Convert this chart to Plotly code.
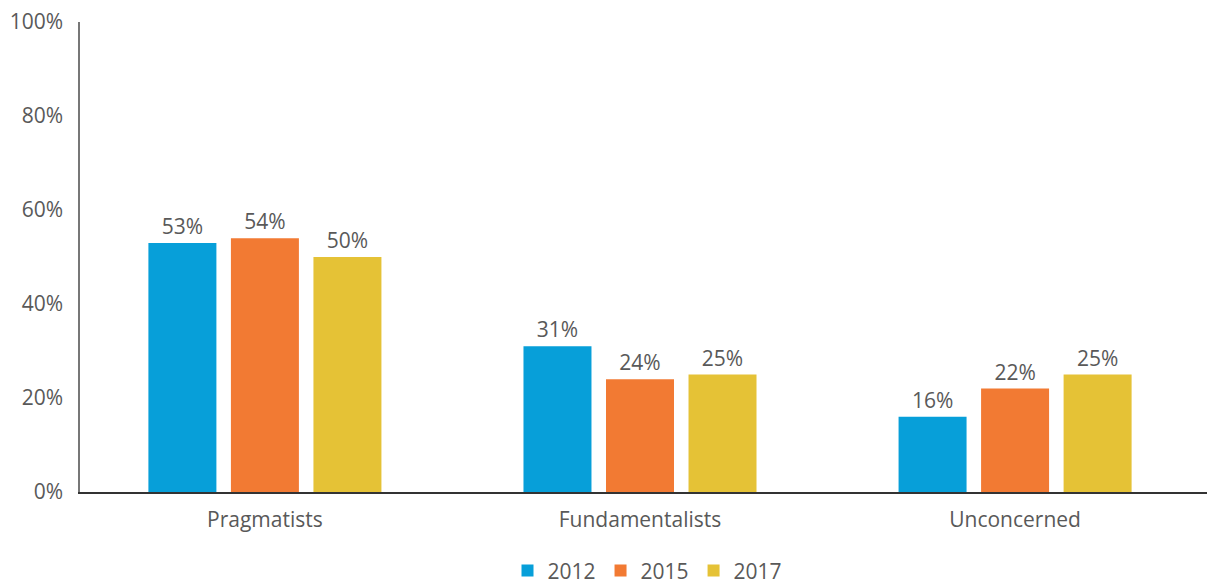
import plotly.graph_objects as go

categories = ["Pragmatists", "Fundamentalists", "Unconcerned"]
years = ["2012", "2015", "2017"]
values_2012 = [53, 31, 16]
values_2015 = [54, 24, 22]
values_2017 = [50, 25, 25]
colors = ["#079FD9", "#F27A33", "#E5C236"]
y_ticks = [0, 20, 40, 60, 80, 100]

series = [values_2012, values_2015, values_2017]
txt_color = "#595959"
font_family = "Open Sans, Noto Sans, sans-serif"
fs = 21

fig = go.Figure()
for yr, vals, col in zip(years, series, colors):
    fig.add_trace(go.Bar(
        x=categories, y=vals, name=yr, marker_color=col, marker_line_width=0,
        text=[f"{v}%" for v in vals], textposition="outside",
        textfont=dict(size=fs, color=txt_color, family=font_family),
        cliponaxis=False,
    ))

fig.update_layout(
    width=1207, height=577,
    margin=dict(l=72, r=0, t=14, b=93, autoexpand=False),
    paper_bgcolor="white", plot_bgcolor="white",
    barmode="group", bargap=0.34, bargroupgap=0.176,
    font=dict(family=font_family, size=fs, color=txt_color),
    showlegend=True,
    legend=dict(orientation="h", x=0.5, xanchor="center", y=-0.168, yanchor="middle",
                font=dict(size=fs, color=txt_color), itemwidth=30, traceorder="normal"),
    xaxis=dict(range=[-0.493, 2.533], showline=True, linecolor="#333333", linewidth=1.5,
               showgrid=False, ticks="", ticklabelstandoff=8, automargin=False,
               tickfont=dict(size=fs, color=txt_color)),
    yaxis=dict(range=[0, 100], tickvals=y_ticks, ticktext=[f"{t}%" for t in y_ticks],
               showline=True, linecolor="#777777", linewidth=1.5, showgrid=False,
               zeroline=False, ticks="", ticklabelstandoff=11, automargin=False,
               ticklabeloverflow="allow",
               tickfont=dict(size=fs, color=txt_color)),
)

fig.write_html("out.html")
